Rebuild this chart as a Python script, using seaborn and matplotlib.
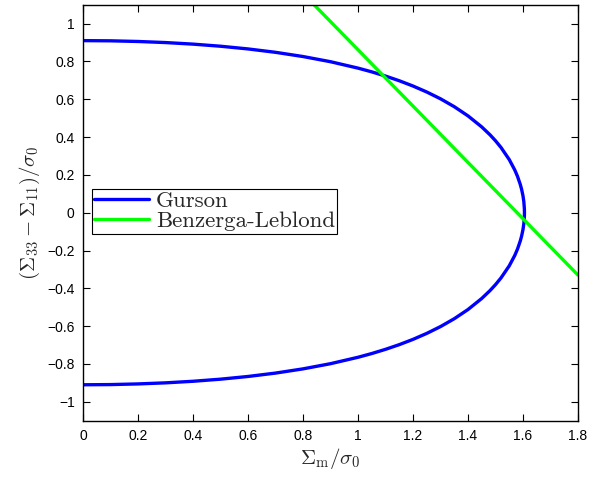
import matplotlib
matplotlib.use("Agg")
import matplotlib.pyplot as plt
import seaborn as sns
import pandas as pd

# Gurson yield surface, upper branch then lower branch
gurson_x = [0.0, 0.1, 0.2, 0.3, 0.4, 0.5, 0.6, 0.7, 0.8, 0.9, 1.0, 1.05, 1.1, 1.15,
            1.2, 1.25, 1.3, 1.35, 1.4, 1.45, 1.48, 1.5, 1.52, 1.55, 1.57, 1.58, 1.59,
            1.595, 1.6, 1.603, 1.605, 1.6053,
            1.605, 1.603, 1.6, 1.595, 1.59, 1.58, 1.57, 1.55, 1.52, 1.5, 1.48, 1.45,
            1.4, 1.35, 1.3, 1.25, 1.2, 1.15, 1.1, 1.05, 1.0, 0.9, 0.8, 0.7, 0.6, 0.5,
            0.4, 0.3, 0.2, 0.1, 0.0]
gurson_y = [0.91, 0.909, 0.9055, 0.8998, 0.8915, 0.8804, 0.8661, 0.8482, 0.8259, 0.7985,
            0.7646, 0.7448, 0.7226, 0.6978, 0.6699, 0.6383, 0.6023, 0.5607, 0.512, 0.4535,
            0.4119, 0.3804, 0.3449, 0.2809, 0.2261, 0.1922, 0.1498,
            0.1232, 0.0886, 0.0583, 0.0205, 0.0,
            -0.0205, -0.0583, -0.0886, -0.1232, -0.1498, -0.1922, -0.2261, -0.2809,
            -0.3449, -0.3804, -0.4119, -0.4535, -0.512, -0.5607, -0.6023, -0.6383,
            -0.6699, -0.6978, -0.7226, -0.7448, -0.7646, -0.7985, -0.8259, -0.8482,
            -0.8661, -0.8804, -0.8915, -0.8998, -0.9055, -0.909, -0.91]

# Benzerga-Leblond line
bl_x = [0.84, 1.8]
bl_y = [1.1, -0.33]

x_ticks = [0, 0.2, 0.4, 0.6, 0.8, 1.0, 1.2, 1.4, 1.6, 1.8]
x_ticklabels = ["0", "0.2", "0.4", "0.6", "0.8", "1", "1.2", "1.4", "1.6", "1.8"]
y_ticks = [-1, -0.8, -0.6, -0.4, -0.2, 0, 0.2, 0.4, 0.6, 0.8, 1]
y_ticklabels = ["\u22121", "\u22120.8", "\u22120.6", "\u22120.4", "\u22120.2", "0",
                "0.2", "0.4", "0.6", "0.8", "1"]

sns.set_style("ticks")
plt.rcParams["font.family"] = ["Liberation Sans", "DejaVu Sans"]
plt.rcParams["mathtext.fontset"] = "cm"

fig = plt.figure(figsize=(5.89, 4.78), dpi=100)
ax = fig.add_axes([83 / 589, 1 - 420.7 / 478, 495 / 589, 416 / 478])

df_g = pd.DataFrame({"x": gurson_x, "y": gurson_y})
df_b = pd.DataFrame({"x": bl_x, "y": bl_y})

sns.lineplot(data=df_g, x="x", y="y", sort=False, color=(0, 0, 1), lw=2.4,
             ax=ax, label="Gurson", estimator=None)
sns.lineplot(data=df_b, x="x", y="y", sort=False, color=(0, 1, 0), lw=2.4,
             ax=ax, label="Benzerga-Leblond", estimator=None)

ax.set_xlim(0, 1.8)
ax.set_ylim(-1.1, 1.1)
ax.set_xticks(x_ticks)
ax.set_xticklabels(x_ticklabels)
ax.set_yticks(y_ticks)
ax.set_yticklabels(y_ticklabels)
ax.tick_params(direction="in", top=True, right=True, length=5, width=0.8,
               labelsize=10, colors="black", pad=6)
for s in ax.spines.values():
    s.set_visible(True)
    s.set_linewidth(1.0)
    s.set_color("black")

ax.set_xlabel(r"$\Sigma_\mathrm{m}/\sigma_0$", fontsize=15, labelpad=2)
ax.set_ylabel(r"$(\Sigma_{33}-\Sigma_{11})/\sigma_0$", fontsize=15, labelpad=4)

leg = ax.legend(loc="upper left", bbox_to_anchor=(0.018, 0.557), borderaxespad=0,
                prop={"family": "cmr10", "size": 16.5}, frameon=True, fancybox=False,
                framealpha=1, edgecolor="black", handlelength=2.4, handletextpad=0.3,
                labelspacing=0.0, borderpad=0.1)
leg.get_frame().set_linewidth(0.8)

fig.savefig("out.png", dpi=100)
